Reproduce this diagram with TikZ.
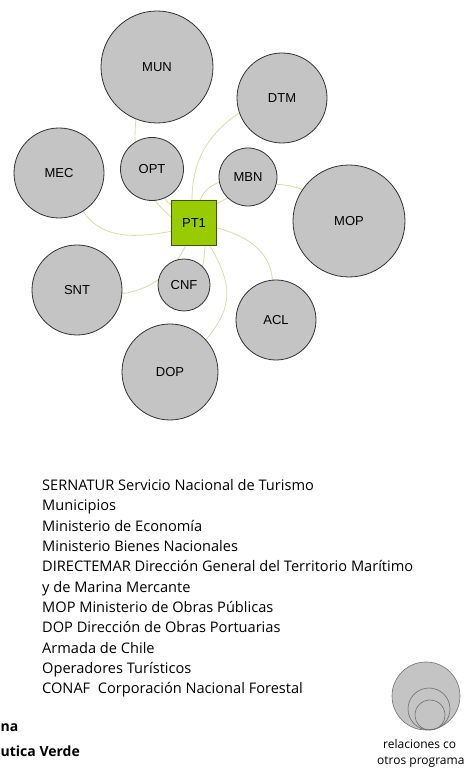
\documentclass[tikz,border=0pt]{standalone}
\usepackage{fontspec}
\setmainfont{Open Sans}
\newfontfamily\arialfont{Liberation Sans}
\usetikzlibrary{backgrounds}

\definecolor{circlegray}{HTML}{C4C4C4}
\definecolor{rimgray}{HTML}{333333}
\definecolor{limegreen}{HTML}{99CC00}
\definecolor{rimgreen}{HTML}{3D5500}
\definecolor{linkgreen}{HTML}{D5DEA6}
\definecolor{keygray}{HTML}{6E6E6E}

\begin{document}
\begin{tikzpicture}[x=1pt,y=1pt]
      \useasboundingbox (0,0) rectangle (465,768);

      \begin{scope}[every node/.style={circle, draw=rimgray, line width=0.8pt, fill=circlegray, inner sep=0pt, font=\arialfont\fontsize{13}{15}\selectfont}]
        \node[minimum size=112pt] (mun) at (157,701) {MUN};
        \node[minimum size=90pt]  (dtm) at (282,670) {DTM};
        \node[minimum size=90pt]  (mec) at (59,595)  {MEC};
        \node[minimum size=63pt]  (opt) at (152,599) {OPT};
        \node[minimum size=58pt]  (mbn) at (248,591) {MBN};
        \node[minimum size=112pt] (mop) at (349,547) {MOP};
        \node[minimum size=90pt]  (snt) at (77,478)  {SNT};
        \node[minimum size=52pt]  (cnf) at (184,483) {CNF};
        \node[minimum size=80pt]  (acl) at (276,448) {ACL};
        \node[minimum size=96pt]  (dop) at (170,396) {DOP};
        \node[rectangle, draw=rimgreen, fill=limegreen, minimum size=45pt] (pt1) at (194,545) {PT1};
      \end{scope}

      \begin{scope}[on background layer, every edge/.style={draw=linkgreen, line width=0.8pt}]
        \path (mun.248) edge[out=-95, in=140] (pt1.165);
        \path (opt.294) edge[out=-55, in=165] (pt1.141);
        \path (dtm.199) edge[out=215, in=90] (pt1.95);
        \path (mbn.190) edge[out=205, in=70] (pt1.75);
        \path (mop.146) edge[out=160, in=30] (pt1.40);
        \path (mec.302) edge[out=-55, in=190] (pt1.200);
        \path (pt1.-12) edge[out=-15, in=95] (acl.95);
        \path (snt.355) edge[out=10, in=243] (pt1.250);
        \path (cnf.45)  edge[out=80, in=-95] (pt1.296);
        \path (pt1.305) edge[out=-60, in=50, looseness=1.2] (dop.42);
      \end{scope}

      % key circles
      \begin{scope}[every node/.style={circle, draw=keygray, line width=0.6pt, inner sep=0pt}]
        \node[fill=circlegray, minimum size=68pt] (keybig) at (426,72) {};
        \node[minimum size=42pt] (keymid) at (429,59) {};
        \node[minimum size=30pt] (keysmall) at (430,53) {};
      \end{scope}

      \begin{scope}[every node/.style={inner sep=0pt, anchor=base west, font=\fontsize{14.6}{16}\selectfont}]
        \foreach \txt [count=\i from 0] in {SERNATUR Servicio Nacional de Turismo, Municipios, Ministerio de Economía, Ministerio Bienes Nacionales, DIRECTEMAR Dirección General del Territorio Marítimo, y de Marina Mercante, MOP Ministerio de Obras Públicas, DOP Dirección de Obras Portuarias, Armada de Chile, Operadores Turísticos, CONAF\ \ Corporación Nacional Forestal}
          \node (leg\i) at (42,277.3-20.3*\i) {\txt};
        \node[font=\bfseries\fontsize{14}{16}\selectfont] (prog) at (0.5,36.3) {na};
        \node[font=\bfseries\fontsize{14}{16}\selectfont] (ruta) at (0.5,12) {utica Verde};
        \node[font=\fontsize{12}{14}\selectfont] (keytxt1) at (383,19.7) {relaciones co};
        \node[font=\fontsize{12}{14}\selectfont] (keytxt2) at (377,4) {otros programa};
      \end{scope}

    \end{tikzpicture}
\end{document}
